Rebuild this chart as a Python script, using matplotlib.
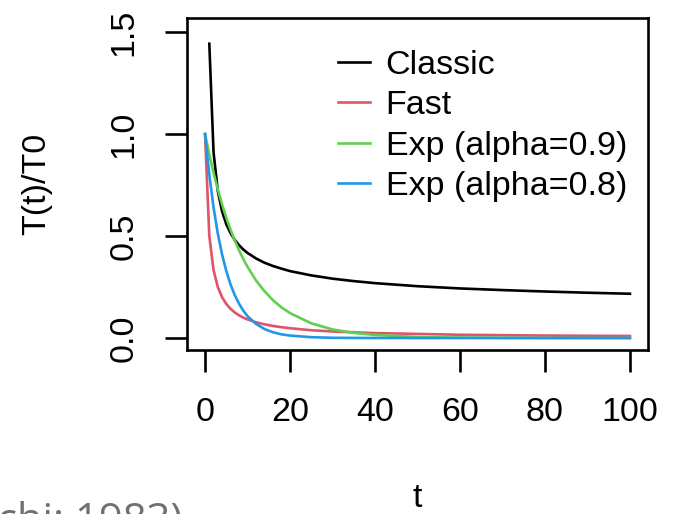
#!/usr/bin/env python

# Temperature schedules for simulated annealing: T(t)/T0 vs t

# Some configuration
DPI   = 100
FSIZE = 24.5

# Import external libraries
import matplotlib
matplotlib.use('Agg')
import matplotlib.pyplot as plt

# Data
tAll = [0, 1, 2, 3, 4, 5, 6, 7, 8, 9, 10, 12, 14, 16, 18, 20,
        25, 30, 35, 40, 50, 60, 70, 80, 90, 100]
tClassic = tAll[1:]
classic = [1.443, 0.910, 0.721, 0.621, 0.558, 0.514, 0.481, 0.455, 0.434,
           0.417, 0.390, 0.369, 0.353, 0.340, 0.328, 0.307, 0.291, 0.279,
           0.269, 0.254, 0.243, 0.235, 0.228, 0.222, 0.217]
fast = [1.0, 0.500, 0.333, 0.250, 0.200, 0.167, 0.143, 0.125, 0.111, 0.100,
        0.091, 0.077, 0.067, 0.059, 0.053, 0.048, 0.038, 0.032, 0.028,
        0.024, 0.020, 0.016, 0.014, 0.012, 0.011, 0.010]
exp09 = [1.0, 0.900, 0.810, 0.729, 0.656, 0.590, 0.531, 0.478, 0.430, 0.387,
         0.349, 0.282, 0.229, 0.185, 0.150, 0.122, 0.072, 0.042, 0.025,
         0.015, 0.005, 0.002, 0.001, 0.0002, 0.0001, 0.0]
exp08 = [1.0, 0.800, 0.640, 0.512, 0.410, 0.328, 0.262, 0.210, 0.168, 0.134,
         0.107, 0.069, 0.044, 0.028, 0.018, 0.012, 0.004, 0.001, 0.0004,
         0.0001, 0.0, 0.0, 0.0, 0.0, 0.0, 0.0]

labels = ['Classic', 'Fast', 'Exp (alpha=0.9)', 'Exp (alpha=0.8)']
colors = ['#000000', '#DF536B', '#61D04F', '#2297E6']
xTicks = [0, 20, 40, 60, 80, 100]
yTicks = [0.0, 0.5, 1.0, 1.5]
yTickLabels = ['0.0', '0.5', '1.0', '1.5']

plt.rcParams['font.family'] = ['Liberation Sans', 'DejaVu Sans']

# Open figure
fig = plt.figure(figsize=(6.75, 5.14), dpi=DPI)
ax = fig.add_axes([187/675, 1-350/514, 461/675, 332/514])

# Plot curves
ax.plot(tClassic, classic, color=colors[0], lw=1.9, label=labels[0])
ax.plot(tAll, fast, color=colors[1], lw=1.9, label=labels[1])
ax.plot(tAll, exp09, color=colors[2], lw=1.9, label=labels[2])
ax.plot(tAll, exp08, color=colors[3], lw=1.9, label=labels[3])

# Arrange plot
ax.set_xlim(-4.25, 104.25)
ax.set_ylim(-0.0588, 1.569)
ax.set_xticks(xTicks)
ax.set_yticks(yTicks)
ax.set_yticklabels(yTickLabels, rotation=90, va='center')
ax.tick_params(direction='out', length=16, width=1.9, pad=18,
               labelsize=FSIZE, colors='black')
for s in ax.spines.values():
    s.set_linewidth(1.9)

# Legend without box
ax.legend(loc='center left', bbox_to_anchor=(338/675, 1-126/514),
          bbox_transform=fig.transFigure, frameon=False, fontsize=FSIZE,
          handlelength=0.95, handletextpad=0.45, labelspacing=0.27,
          borderpad=0, borderaxespad=0)

# Axis titles
fig.text(37/675, 1-184/514, 'T(t)/T0', rotation=90, ha='center',
         va='center', fontsize=FSIZE)
fig.text(417/675, 1-507/514, 't', ha='center', va='baseline',
         fontsize=FSIZE)

# Cut caption from the page below
fig.text(-3/675, -19/514, 'chi; 1983)', ha='left', va='baseline',
         fontsize=30, color='#707070', family=['Open Sans', 'DejaVu Sans'])

fig.savefig('out.png', dpi=DPI)
